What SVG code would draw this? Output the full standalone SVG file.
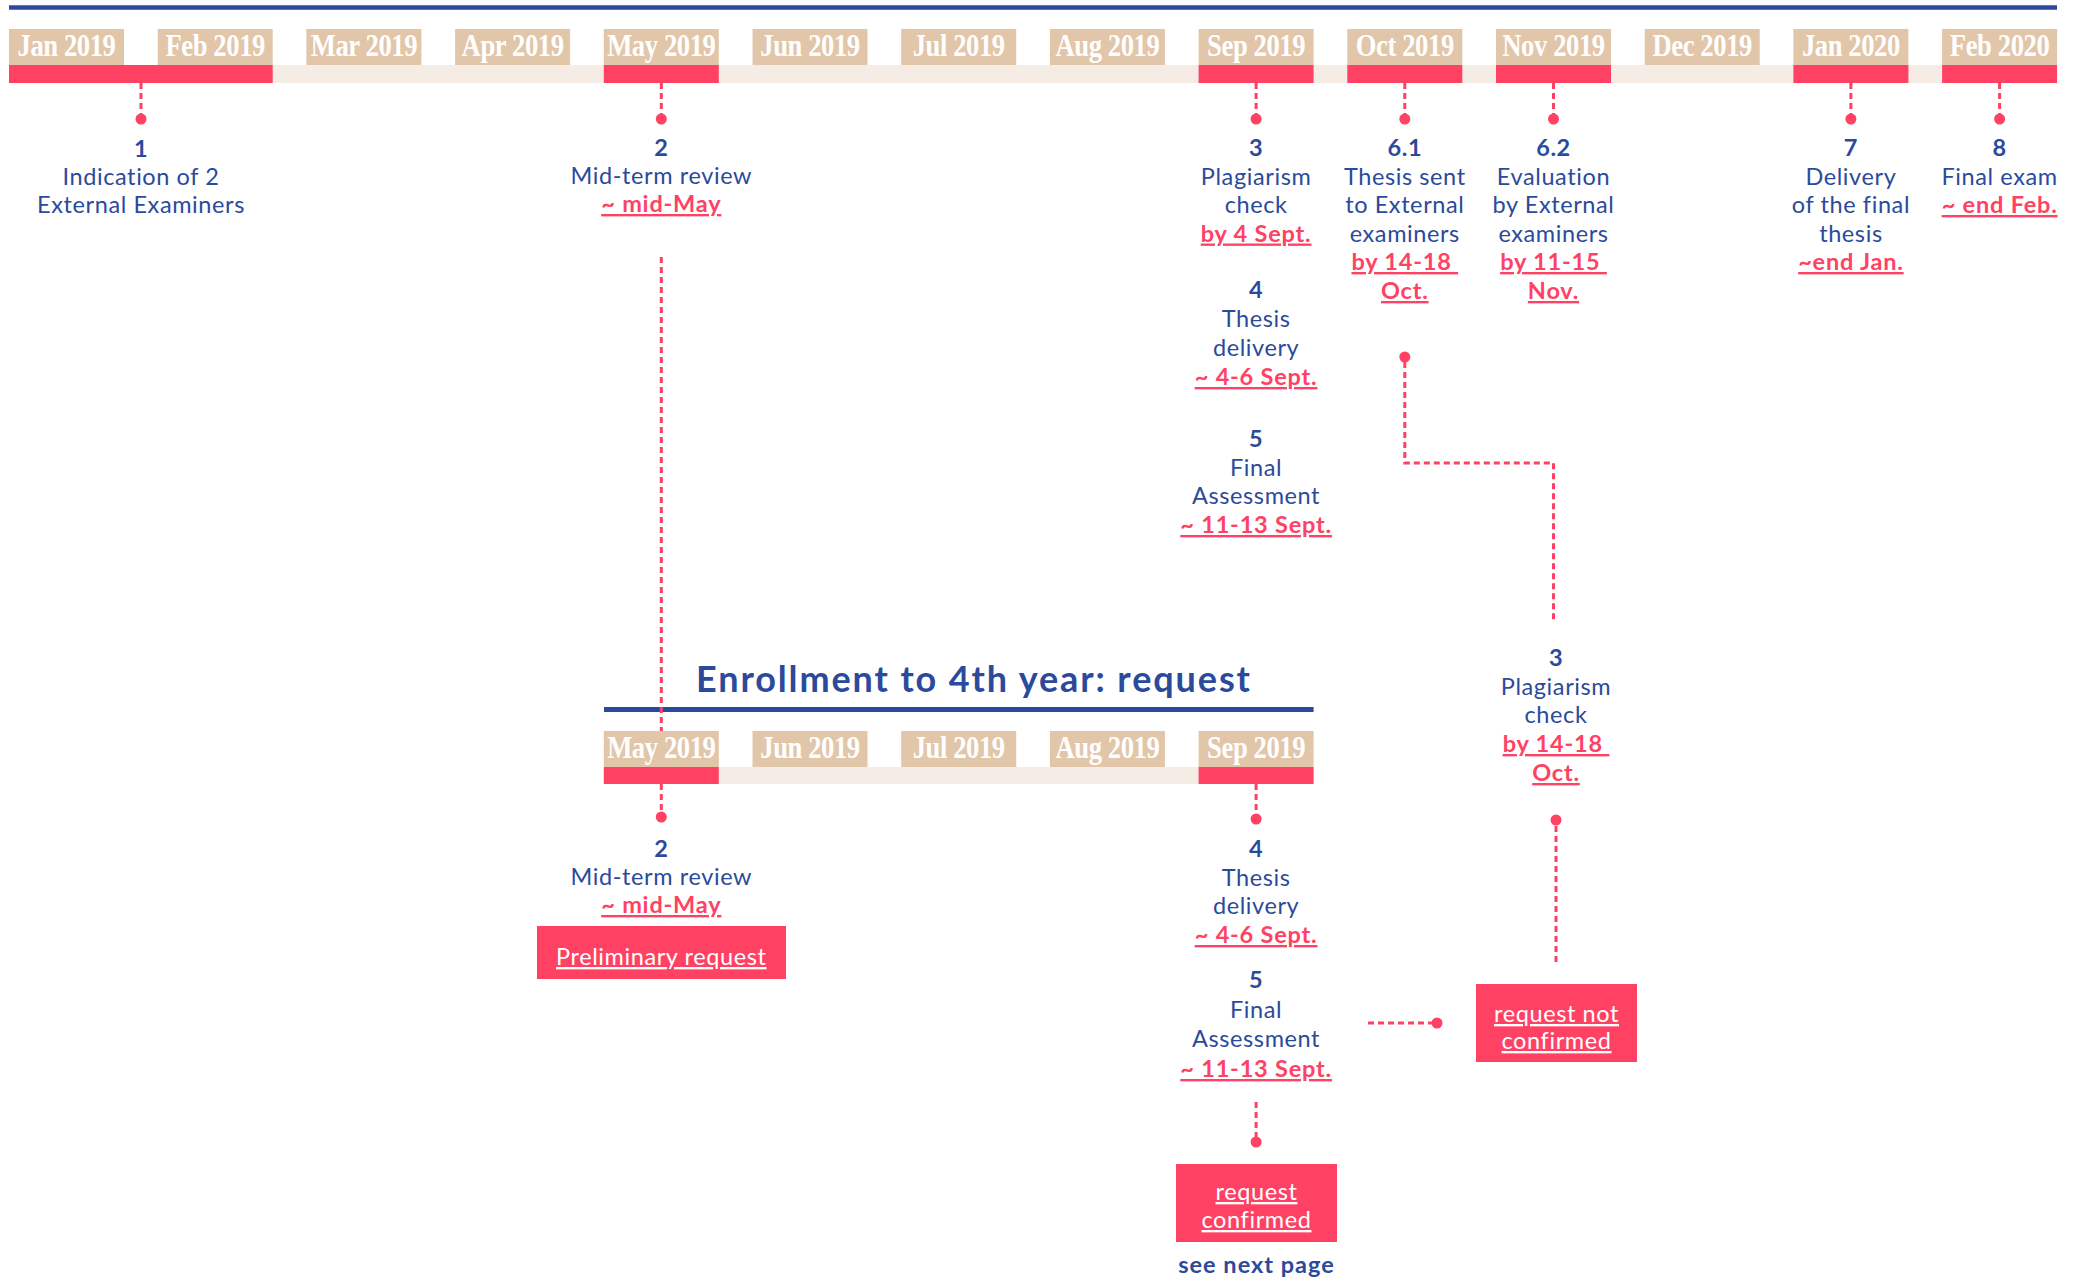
<svg xmlns="http://www.w3.org/2000/svg" width="2081" height="1279" viewBox="0 0 2081 1279">
<style>
.bg{fill:#ffffff}
.box{fill:#e2c6a9}
.bar{fill:#f5ece5}
.red{fill:#ff4264}
.rule{stroke:#2b4a9b;stroke-width:4.5;fill:none}
.m{font-family:"Liberation Serif",serif;font-weight:bold;font-size:31px;fill:#ffffff;text-anchor:middle;letter-spacing:-0.5px}
.t{font-family:Lato,"Noto Sans",sans-serif;font-size:23.5px;fill:#2b4a9b;text-anchor:middle;letter-spacing:0.6px}
.n{font-weight:bold}
.d{fill:#ff4264;font-weight:bold;text-decoration:underline;letter-spacing:0.8px}
.w{fill:#ffffff;text-decoration:underline}
.title{font-family:Lato,"Noto Sans",sans-serif;font-size:36px;font-weight:bold;fill:#2b4a9b;text-anchor:middle}
.cn{fill:none;stroke:#ff4264;stroke-width:3;stroke-dasharray:6 4}
.dot{fill:#ff4264}
</style>
<rect class="bg" x="0" y="0" width="2081" height="1279"/>

<g id="timeline-top">
  <line class="rule" x1="9" y1="7.5" x2="2057" y2="7.5"/>
  <rect class="bar" x="9" y="65" width="2048" height="18"/>
  <rect class="red" x="9" y="65" width="263.7" height="18"/>
  <rect class="red" x="603.8" y="65" width="115" height="18"/>
  <rect class="red" x="1198.6" y="65" width="115" height="18"/>
  <rect class="red" x="1347.3" y="65" width="115" height="18"/>
  <rect class="red" x="1496" y="65" width="115" height="18"/>
  <rect class="red" x="1793.4" y="65" width="115" height="18"/>
  <rect class="red" x="1942.1" y="65" width="115" height="18"/>
  <rect class="box" x="9" y="29" width="115" height="36"/>
  <rect class="box" x="157.7" y="29" width="115" height="36"/>
  <rect class="box" x="306.4" y="29" width="115" height="36"/>
  <rect class="box" x="455.1" y="29" width="115" height="36"/>
  <rect class="box" x="603.8" y="29" width="115" height="36"/>
  <rect class="box" x="752.5" y="29" width="115" height="36"/>
  <rect class="box" x="901.2" y="29" width="115" height="36"/>
  <rect class="box" x="1049.9" y="29" width="115" height="36"/>
  <rect class="box" x="1198.6" y="29" width="115" height="36"/>
  <rect class="box" x="1347.3" y="29" width="115" height="36"/>
  <rect class="box" x="1496" y="29" width="115" height="36"/>
  <rect class="box" x="1644.7" y="29" width="115" height="36"/>
  <rect class="box" x="1793.4" y="29" width="115" height="36"/>
  <rect class="box" x="1942.1" y="29" width="115" height="36"/>
  <text class="m" transform="translate(66.5,55.5) scale(0.86,1)">Jan 2019</text>
  <text class="m" transform="translate(215.2,55.5) scale(0.86,1)">Feb 2019</text>
  <text class="m" transform="translate(363.9,55.5) scale(0.86,1)">Mar 2019</text>
  <text class="m" transform="translate(512.6,55.5) scale(0.86,1)">Apr 2019</text>
  <text class="m" transform="translate(661.3,55.5) scale(0.86,1)">May 2019</text>
  <text class="m" transform="translate(810,55.5) scale(0.86,1)">Jun 2019</text>
  <text class="m" transform="translate(958.7,55.5) scale(0.86,1)">Jul 2019</text>
  <text class="m" transform="translate(1107.4,55.5) scale(0.86,1)">Aug 2019</text>
  <text class="m" transform="translate(1256.1,55.5) scale(0.86,1)">Sep 2019</text>
  <text class="m" transform="translate(1404.8,55.5) scale(0.86,1)">Oct 2019</text>
  <text class="m" transform="translate(1553.5,55.5) scale(0.86,1)">Nov 2019</text>
  <text class="m" transform="translate(1702.2,55.5) scale(0.86,1)">Dec 2019</text>
  <text class="m" transform="translate(1850.9,55.5) scale(0.86,1)">Jan 2020</text>
  <text class="m" transform="translate(1999.6,55.5) scale(0.86,1)">Feb 2020</text>
</g>

<g id="step-1" class="t">
  <text x="141" y="157" class="n">1</text>
  <text x="141" y="185">Indication of 2</text>
  <text x="141" y="213">External Examiners</text>
</g>
<g id="step-2" class="t">
  <text x="661.3" y="156" class="n">2</text>
  <text x="661.3" y="184">Mid-term review</text>
  <text x="661.3" y="212" class="d">~ mid-May</text>
</g>
<g id="step-3" class="t">
  <text x="1256.1" y="156" class="n">3</text>
  <text x="1256.1" y="184.5">Plagiarism</text>
  <text x="1256.1" y="213">check</text>
  <text x="1256.1" y="241.5" class="d">by 4 Sept.</text>
</g>
<g id="step-4" class="t">
  <text x="1256.1" y="298" class="n">4</text>
  <text x="1256.1" y="327">Thesis</text>
  <text x="1256.1" y="356">delivery</text>
  <text x="1256.1" y="385" class="d">~ 4-6 Sept.</text>
</g>
<g id="step-5" class="t">
  <text x="1256.1" y="447" class="n">5</text>
  <text x="1256.1" y="476">Final</text>
  <text x="1256.1" y="504">Assessment</text>
  <text x="1256.1" y="533" class="d">~ 11-13 Sept.</text>
</g>
<g id="step-6-1" class="t">
  <text x="1404.8" y="156" class="n">6.1</text>
  <text x="1404.8" y="184.5">Thesis sent</text>
  <text x="1404.8" y="213">to External</text>
  <text x="1404.8" y="241.5">examiners</text>
  <text x="1404.8" y="270" class="d" xml:space="preserve">by 14-18 </text>
  <text x="1404.8" y="299" class="d">Oct.</text>
</g>
<g id="step-6-2" class="t">
  <text x="1553.5" y="156" class="n">6.2</text>
  <text x="1553.5" y="184.5">Evaluation</text>
  <text x="1553.5" y="213">by External</text>
  <text x="1553.5" y="241.5">examiners</text>
  <text x="1553.5" y="270" class="d" xml:space="preserve">by 11-15 </text>
  <text x="1553.5" y="299" class="d">Nov.</text>
</g>
<g id="step-7" class="t">
  <text x="1850.9" y="156" class="n">7</text>
  <text x="1850.9" y="184.5">Delivery</text>
  <text x="1850.9" y="213">of the final</text>
  <text x="1850.9" y="241.5">thesis</text>
  <text x="1850.9" y="270" class="d">~end Jan.</text>
</g>
<g id="step-8" class="t">
  <text x="1999.6" y="156" class="n">8</text>
  <text x="1999.6" y="184.5">Final exam</text>
  <text x="1999.6" y="213" class="d">~ end Feb.</text>
</g>

<g id="plagiarism-check-lower" class="t">
  <text x="1556" y="666" class="n">3</text>
  <text x="1556" y="695">Plagiarism</text>
  <text x="1556" y="723">check</text>
  <text x="1556" y="752" class="d" xml:space="preserve">by 14-18 </text>
  <text x="1556" y="781" class="d">Oct.</text>
</g>

<g id="request-not-confirmed">
  <rect class="red" x="1476" y="984" width="161" height="78"/>
  <text class="t w" x="1556.5" y="1022">request not</text>
  <text class="t w" x="1556.5" y="1049">confirmed</text>
</g>

<g id="timeline-enrollment">
  <text class="title" x="973" y="692" textLength="554" lengthAdjust="spacing">Enrollment to 4th year: request</text>
  <line class="rule" x1="604" y1="709.5" x2="1313.6" y2="709.5" style="stroke-width:5"/>
  <rect class="bar" x="603.8" y="767" width="709.8" height="17"/>
  <rect class="red" x="603.8" y="767" width="115" height="17"/>
  <rect class="red" x="1198.6" y="767" width="115" height="17"/>
  <rect class="box" x="603.8" y="731" width="115" height="36"/>
  <rect class="box" x="752.5" y="731" width="115" height="36"/>
  <rect class="box" x="901.2" y="731" width="115" height="36"/>
  <rect class="box" x="1049.9" y="731" width="115" height="36"/>
  <rect class="box" x="1198.6" y="731" width="115" height="36"/>
  <text class="m" transform="translate(661.3,757.5) scale(0.86,1)">May 2019</text>
  <text class="m" transform="translate(810,757.5) scale(0.86,1)">Jun 2019</text>
  <text class="m" transform="translate(958.7,757.5) scale(0.86,1)">Jul 2019</text>
  <text class="m" transform="translate(1107.4,757.5) scale(0.86,1)">Aug 2019</text>
  <text class="m" transform="translate(1256.1,757.5) scale(0.86,1)">Sep 2019</text>
</g>

<g id="enroll-step-2" class="t">
  <text x="661.3" y="857" class="n">2</text>
  <text x="661.3" y="885">Mid-term review</text>
  <text x="661.3" y="913" class="d">~ mid-May</text>
</g>
<g id="preliminary-request">
  <rect class="red" x="537" y="926" width="249" height="53"/>
  <text class="t w" x="661.3" y="965">Preliminary request</text>
</g>
<g id="enroll-step-4" class="t">
  <text x="1256.1" y="857" class="n">4</text>
  <text x="1256.1" y="886">Thesis</text>
  <text x="1256.1" y="914">delivery</text>
  <text x="1256.1" y="943" class="d">~ 4-6 Sept.</text>
</g>
<g id="enroll-step-5" class="t">
  <text x="1256.1" y="988" class="n">5</text>
  <text x="1256.1" y="1018">Final</text>
  <text x="1256.1" y="1047">Assessment</text>
  <text x="1256.1" y="1077" class="d">~ 11-13 Sept.</text>
</g>
<g id="request-confirmed">
  <rect class="red" x="1176" y="1164" width="161" height="78"/>
  <text class="t w" x="1256.5" y="1200">request</text>
  <text class="t w" x="1256.5" y="1228">confirmed</text>
  <text class="t n" x="1256.5" y="1273" style="letter-spacing:1px">see next page</text>
</g>

<g id="connectors">
  <path class="cn" d="M141,83V114"/>
  <circle class="dot" cx="141" cy="119" r="5.5"/>
  <path class="cn" d="M661.3,83V114"/>
  <circle class="dot" cx="661.3" cy="119" r="5.5"/>
  <path class="cn" d="M1256.1,83V114"/>
  <circle class="dot" cx="1256.1" cy="119" r="5.5"/>
  <path class="cn" d="M1404.8,83V114"/>
  <circle class="dot" cx="1404.8" cy="119" r="5.5"/>
  <path class="cn" d="M1553.5,83V114"/>
  <circle class="dot" cx="1553.5" cy="119" r="5.5"/>
  <path class="cn" d="M1850.9,83V114"/>
  <circle class="dot" cx="1850.9" cy="119" r="5.5"/>
  <path class="cn" d="M1999.6,83V114"/>
  <circle class="dot" cx="1999.6" cy="119" r="5.5"/>

  <path class="cn" d="M661.3,257V731"/>

  <circle class="dot" cx="1404.8" cy="357" r="5.5"/>
  <path class="cn" d="M1404.8,362V463H1553.5V621"/>

  <circle class="dot" cx="1556" cy="820" r="5.5"/>
  <path class="cn" d="M1556,826V963"/>

  <path class="cn" d="M661.3,784V812"/>
  <circle class="dot" cx="661.3" cy="817" r="5.5"/>
  <path class="cn" d="M1256.1,784V814"/>
  <circle class="dot" cx="1256.1" cy="819" r="5.5"/>

  <path class="cn" d="M1368,1023H1432"/>
  <circle class="dot" cx="1437" cy="1023" r="5.5"/>

  <path class="cn" d="M1256.1,1102V1137"/>
  <circle class="dot" cx="1256.1" cy="1142" r="5.5"/>
</g>
</svg>
